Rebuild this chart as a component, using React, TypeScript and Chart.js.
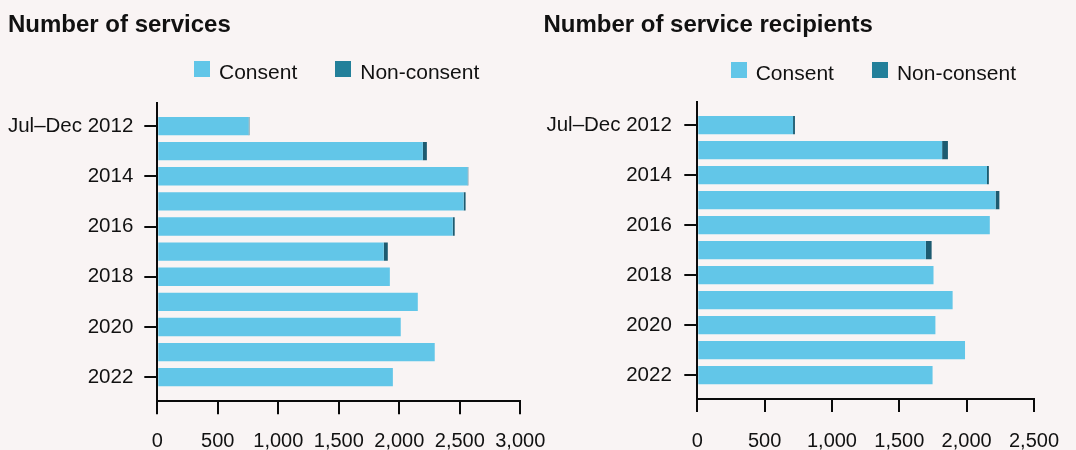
import { useEffect, useRef } from "react";
import { Chart, registerables } from "chart.js";

Chart.register(...registerables);

// ---------- data ----------
const categories = [
  "Jul–Dec 2012",
  "2013",
  "2014",
  "2015",
  "2016",
  "2017",
  "2018",
  "2019",
  "2020",
  "2021",
  "2022",
];
const labelledCategoryIndexes = [0, 2, 4, 6, 8, 10];
const seriesNames = ["Consent", "Non-consent"];

const servicesConsent = [755, 2195, 2565, 2532, 2442, 1872, 1922, 2153, 2012, 2293, 1947];
const servicesNonConsent = [6, 33, 5, 16, 16, 33, 0, 0, 0, 0, 0];

const recipientsConsent = [711, 1818, 2151, 2215, 2172, 1697, 1754, 1896, 1768, 1988, 1747];
const recipientsNonConsent = [14, 43, 14, 28, 0, 43, 0, 0, 0, 0, 0];

const servicesAxisMax = 3000;
const recipientsAxisMax = 2500;
const axisStep = 500;

// ---------- styles ----------
const BG = "#f9f4f4";
const INK = "#111111";
const AXIS = "#0a0a0a";
const FONT = "'Liberation Sans', Arial, Helvetica, sans-serif";
const barColors = ["#62c6e8", "#1d5b70"];
const legendColors = ["#62c6e8", "#23809a"];

if (typeof document !== "undefined") {
  document.body.style.margin = "0";
  document.body.style.background = BG;
  document.body.style.overflow = "hidden";
}

Chart.defaults.font.family = FONT;

type PanelProps = {
  title: string;
  consent: number[];
  nonConsent: number[];
  axisMax: number;
  left: number;
  width: number;
  titleLeft: number;
  legendLeft: number;
  legendTop: number;
  plotLeft: number;
  plotRight: number;
  plotTop: number;
  plotBottom: number;
  yLabelPad: number;
  xLabelPad: number;
};

const HEIGHT = 450;

function Panel(p: PanelProps) {
  const ref = useRef<HTMLCanvasElement | null>(null);

  useEffect(() => {
    if (!ref.current) return;
    const values = [p.consent, p.nonConsent];
    const chart = new Chart(ref.current, {
      type: "bar",
      data: {
        datasets: seriesNames.map((name, s) => ({
          label: name,
          data: categories.map((_, i) => ({ x: values[s][i], y: i })),
          backgroundColor: barColors[s],
          borderWidth: 0,
          barPercentage: 0.73,
          categoryPercentage: 1,
        })),
      },
      options: {
        indexAxis: "y",
        animation: false,
        responsive: false,
        maintainAspectRatio: false,
        events: [],
        layout: {
          padding: { top: p.plotTop, right: p.width - p.plotRight, bottom: 0, left: 0 },
        },
        plugins: {
          legend: { display: false },
          title: { display: false },
          tooltip: { enabled: false },
        },
        scales: {
          x: {
            type: "linear",
            stacked: true,
            min: 0,
            max: p.axisMax,
            offset: false,
            grid: {
              offset: false,
              drawOnChartArea: false,
              drawTicks: true,
              tickLength: 13,
              color: AXIS,
              lineWidth: 2,
            },
            border: { display: true, color: AXIS, width: 2 },
            ticks: {
              stepSize: axisStep,
              color: INK,
              font: { size: 20 },
              padding: p.xLabelPad,
              maxRotation: 0,
              autoSkip: false,
            },
            afterFit: (scale: any) => {
              scale.height = HEIGHT - p.plotBottom;
            },
          },
          y: {
            type: "linear",
            stacked: true,
            reverse: true,
            offset: false,
            min: -0.93,
            max: 10.96,
            grid: {
              offset: false,
              drawOnChartArea: false,
              drawTicks: true,
              tickLength: 13,
              color: AXIS,
              lineWidth: 2,
            },
            border: { display: true, color: AXIS, width: 2 },
            afterBuildTicks: (scale: any) => {
              scale.ticks = labelledCategoryIndexes.map((v) => ({ value: v }));
            },
            ticks: {
              color: INK,
              font: { size: 20.5 },
              padding: p.yLabelPad,
              autoSkip: false,
              callback: (v: any) => categories[Number(v)] ?? "",
            },
            afterFit: (scale: any) => {
              scale.width = p.plotLeft;
            },
          },
        },
      } as any,
    });
    return () => chart.destroy();
  }, []);

  return (
    <>
      <div
        style={{
          position: "absolute",
          left: p.left,
          top: 0,
          width: p.width,
          height: HEIGHT,
        }}
      >
        <canvas
          ref={ref}
          width={p.width}
          height={HEIGHT}
          style={{ display: "block", width: p.width, height: HEIGHT }}
        />
      </div>
      <div
        style={{
          position: "absolute",
          left: p.titleLeft,
          top: 12.4,
          fontSize: 24,
          lineHeight: "24px",
          fontWeight: "bold",
          color: INK,
          whiteSpace: "nowrap",
        }}
      >
        {p.title}
      </div>
      <div
        style={{
          position: "absolute",
          left: p.legendLeft,
          top: p.legendTop,
          display: "flex",
          alignItems: "flex-start",
          fontSize: 21,
          lineHeight: "21px",
          color: INK,
          whiteSpace: "nowrap",
        }}
      >
        {seriesNames.map((name, i) => (
          <div
            key={name}
            style={{
              display: "flex",
              alignItems: "flex-start",
              marginRight: i === 0 ? 38 : 0,
            }}
          >
            <span
              style={{
                display: "inline-block",
                width: 16,
                height: 16,
                background: legendColors[i],
                marginRight: 9,
              }}
            />
            <span>{name}</span>
          </div>
        ))}
      </div>
    </>
  );
}

export default function App() {
  return (
    <div
      style={{
        position: "relative",
        width: 1076,
        height: HEIGHT,
        background: BG,
        fontFamily: FONT,
        overflow: "hidden",
      }}
    >
      <Panel
        title="Number of services"
        consent={servicesConsent}
        nonConsent={servicesNonConsent}
        axisMax={servicesAxisMax}
        left={0}
        width={560}
        titleLeft={8}
        legendLeft={194}
        legendTop={61}
        plotLeft={157.3}
        plotRight={520.7}
        plotTop={102.7}
        plotBottom={401.3}
        yLabelPad={11}
        xLabelPad={14.7}
      />
      <Panel
        title="Number of service recipients"
        consent={recipientsConsent}
        nonConsent={recipientsNonConsent}
        axisMax={recipientsAxisMax}
        left={538}
        width={538}
        titleLeft={543.4}
        legendLeft={730.7}
        legendTop={62}
        plotLeft={159.3}
        plotRight={511.3}
        plotTop={102}
        plotBottom={399}
        yLabelPad={12.5}
        xLabelPad={17}
      />
    </div>
  );
}
